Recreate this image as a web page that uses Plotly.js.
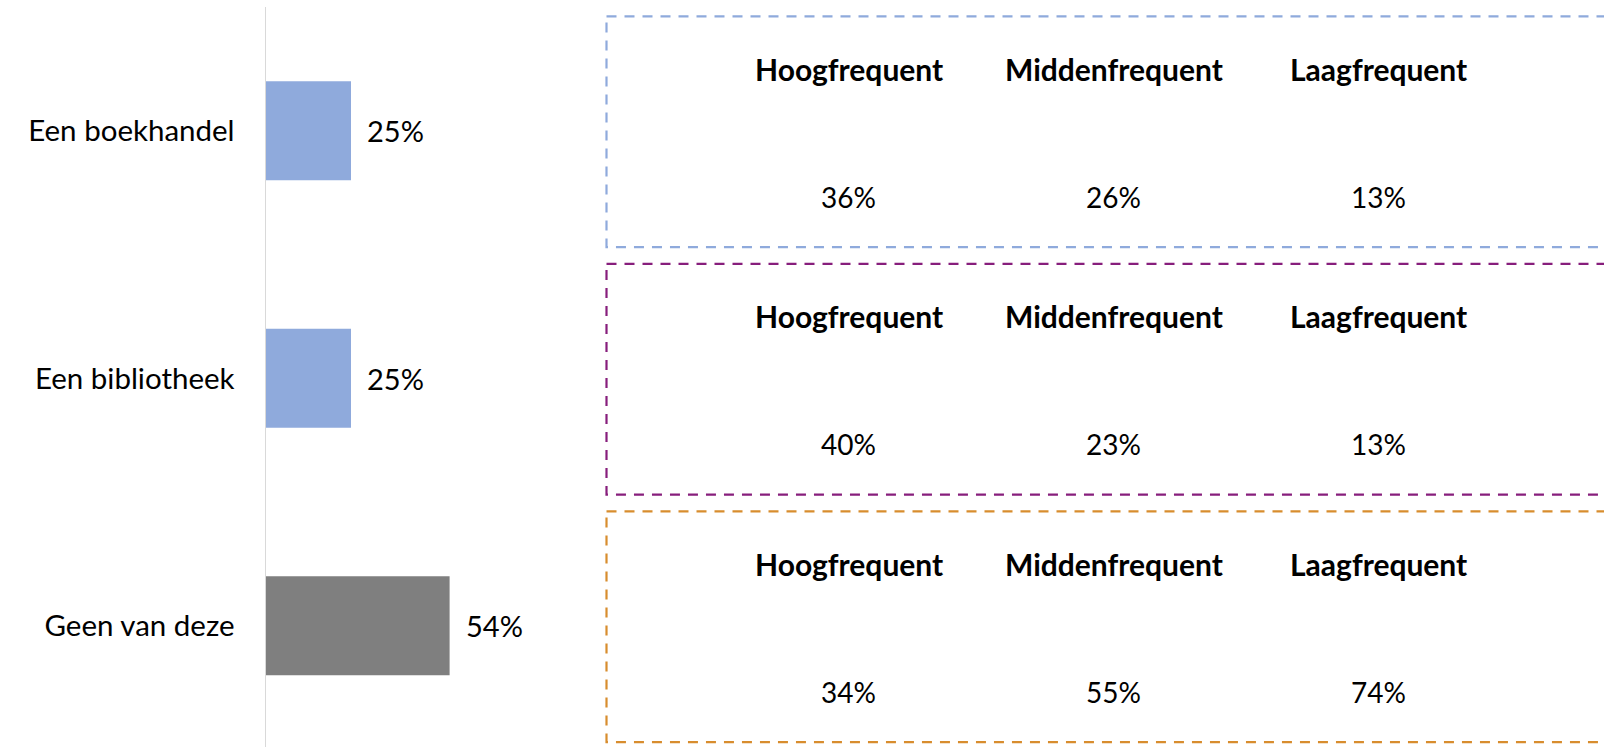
<!DOCTYPE html>
<html>
<head>
<meta charset="utf-8">
<script src="https://cdn.plot.ly/plotly-3.0.1.min.js"></script>
<style>
  html, body { margin: 0; padding: 0; background: #ffffff; }
  #chart { width: 1604px; height: 747px; }
</style>
</head>
<body>
<div id="chart"></div>
<script>
// Where people bought or borrowed books (share of respondents, %)
const categories = ['Een boekhandel', 'Een bibliotheek', 'Geen van deze'];
const shares = [25, 25, 54];
const barColors = ['#8FAADC', '#8FAADC', '#7F7F7F'];

// Breakdown per reader group, one row per category
const groups = ['Hoogfrequent', 'Middenfrequent', 'Laagfrequent'];
const boekhandelByGroup = [36, 26, 13];
const bibliotheekByGroup = [40, 23, 13];
const geenByGroup = [34, 55, 74];
const boxColors = ['#8FAADC', '#871E7C', '#D88D2E'];

const groupRows = [boekhandelByGroup, bibliotheekByGroup, geenByGroup];

const FONT = 'Lato, "Open Sans", sans-serif';
const PX_PER_UNIT = 3.4;          // horizontal scale of the bars
const PLOT_LEFT = 266;
const PLOT_WIDTH = 1604 - PLOT_LEFT;
const colX = [848.6, 1113.5, 1378.5].map(px => (px - PLOT_LEFT) / PLOT_WIDTH);
const boxLeft = (606.5 - PLOT_LEFT) / PLOT_WIDTH;

const trace = {
  type: 'bar',
  orientation: 'h',
  y: categories,
  x: shares,
  marker: { color: barColors, line: { width: 0 } },
  hoverinfo: 'skip',
  showlegend: false
};

const annotations = [];
const shapes = [];

// value labels next to the bars
categories.forEach((c, i) => {
  annotations.push({
    x: shares[i], y: c, xref: 'x', yref: 'y',
    text: shares[i] + '%',
    showarrow: false, xanchor: 'left', yanchor: 'middle',
    xshift: 14,
    font: { family: FONT, size: 29, color: '#000000' }
  });
});

// dashed boxes with the per-group breakdown
groupRows.forEach((row, i) => {
  shapes.push({
    type: 'rect', xref: 'paper', yref: 'y',
    x0: boxLeft, x1: 1.05,
    y0: i - 0.462, y1: i + 0.47,
    line: { color: boxColors[i], width: 2.2, dash: '10px,8px' },
    fillcolor: 'rgba(0,0,0,0)'
  });
  groups.forEach((g, j) => {
    annotations.push({
      x: colX[j], y: i, xref: 'paper', yref: 'y',
      text: '<b>' + g + '</b>',
      showarrow: false, xanchor: 'center', yanchor: 'middle',
      yshift: 62,
      font: { family: FONT, size: 30, color: '#000000' }
    });
    annotations.push({
      x: colX[j], y: i, xref: 'paper', yref: 'y',
      text: row[j] + '%',
      showarrow: false, xanchor: 'center', yanchor: 'middle',
      yshift: -66,
      font: { family: FONT, size: 28, color: '#000000' }
    });
  });
});

const layout = {
  width: 1604,
  height: 747,
  margin: { l: PLOT_LEFT, r: 0, t: 7, b: 0 },
  paper_bgcolor: '#ffffff',
  plot_bgcolor: '#ffffff',
  bargap: 0.6,
  xaxis: {
    range: [0, PLOT_WIDTH / PX_PER_UNIT],
    visible: false,
    fixedrange: true
  },
  yaxis: {
    type: 'category',
    range: [2.49, -0.5],
    showline: true,
    linecolor: '#D9D9D9',
    linewidth: 1.5,
    showgrid: false,
    zeroline: false,
    ticks: '',
    ticklabelstandoff: 24,
    tickfont: { family: FONT, size: 29.5, color: '#000000' },
    fixedrange: true
  },
  shapes: shapes,
  annotations: annotations
};

Plotly.newPlot('chart', [trace], layout, { staticPlot: true, displayModeBar: false });
</script>
</body>
</html>
